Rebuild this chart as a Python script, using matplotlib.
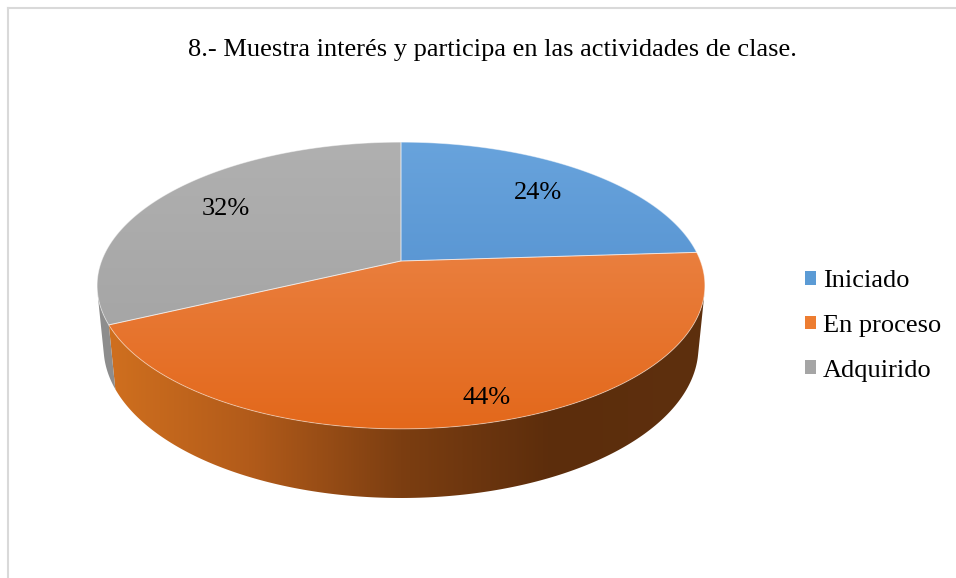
import numpy as np
import matplotlib
matplotlib.use("Agg")
import matplotlib.pyplot as plt
from matplotlib.patches import Polygon, Patch
from matplotlib.lines import Line2D
from matplotlib.colors import LinearSegmentedColormap

# ---------------- data ----------------
title = "8.- Muestra interés y participa en las actividades de clase."
categories = ["Iniciado", "En proceso", "Adquirido"]
values = [24, 44, 32]
label_texts = ["24%", "44%", "32%"]

# ---------------- style ----------------
legend_colors = ["#5B9BD5", "#ED7D31", "#A5A5A5"]
top_grad = [("#68A3DC", "#4887C9"), ("#EE8D54", "#E3681B"), ("#B0B0B0", "#A0A0A0")]
side_grad = [["#3F78B5", "#2A5584"],
             ["#D2711F", "#B25B1A", "#7C3E11", "#5C2D0C", "#5E300E"],
             ["#8E8E8E", "#7E7E7E"]]
label_r = [0.73, 0.88, 0.74]
label_dth = [0.0, -1.8, 0.0]
FONT = "Liberation Serif"
FS = 19

W, H = 956, 578
fig = plt.figure(figsize=(W / 100, H / 100), dpi=100)
ax = fig.add_axes([0, 0, 1, 1])
ax.axis("off")

# perspective projection of a unit-radius cylinder
cx, cy = 401, 261
phi = np.radians(27.7)
s, c = np.sin(phi), np.cos(phi)
D, F, h = 5.18, 1551.0, 0.235


def proj(theta_deg, z, r=1.0):
    t = np.radians(theta_deg)
    X = r * np.sin(t)
    Y = r * np.cos(t)
    den = D + Y * c - z * s
    return cx + F * X / den, cy - F * (Y * s + z * c) / den


total = float(sum(values))
angles = np.concatenate([[0], np.cumsum(values) / total * 360.0])

# silhouette of wall (tangent from camera)
thR = np.degrees(np.arccos(-1.0 / (D * c)))
thL = 360 - thR

# overall extents
tt = np.linspace(0, 360, 721)
ex, ey = proj(tt, 0)
bx, by = proj(tt, -h)
x_min, x_max = min(ex.min(), bx.min()), max(ex.max(), bx.max())
y_top, y_bot = ey.min(), ey.max()

grad_v = np.linspace(0, 1, 256).reshape(-1, 1)
grad_h = np.linspace(0, 1, 256).reshape(1, -1)

# walls
for i in range(len(values)):
    a0, a1 = max(angles[i], thR), min(angles[i + 1], thL)
    if a1 <= a0:
        continue
    th = np.linspace(a0, a1, 200)
    tx, ty = proj(th, 0)
    bxx, byy = proj(th[::-1], -h)
    pts = np.column_stack([np.concatenate([tx, bxx]), np.concatenate([ty, byy])])
    poly = Polygon(pts, closed=True, facecolor="none", edgecolor="none")
    ax.add_patch(poly)
    cmap = LinearSegmentedColormap.from_list(f"side{i}", side_grad[i])
    im = ax.imshow(grad_h, extent=(x_min, x_max, by.max(), y_top), origin="upper",
                   cmap=cmap, aspect="auto", zorder=1, interpolation="bilinear")
    im.set_clip_path(poly)

# top faces
for i in range(len(values)):
    th = np.linspace(angles[i], angles[i + 1], 300)
    tx, ty = proj(th, 0)
    pts = np.column_stack([np.concatenate([[cx], tx]), np.concatenate([[cy], ty])])
    poly = Polygon(pts, closed=True, facecolor="none", edgecolor="none")
    ax.add_patch(poly)
    cmap = LinearSegmentedColormap.from_list(f"top{i}", list(top_grad[i]))
    im = ax.imshow(grad_v, extent=(x_min, x_max, y_bot, y_top), origin="upper",
                   cmap=cmap, aspect="auto", zorder=2, interpolation="bilinear")
    im.set_clip_path(poly)
    edge = Polygon(pts, closed=True, facecolor="none", edgecolor=(1, 1, 1, 0.45),
                   linewidth=0.7, zorder=3)
    ax.add_patch(edge)

# labels
for i, lab in enumerate(label_texts):
    mid = (angles[i] + angles[i + 1]) / 2 + label_dth[i]
    lx, ly = proj(mid, 0, label_r[i])
    ax.text(lx, ly, lab, ha="center", va="center", fontsize=FS, family=FONT,
            color="black", zorder=5)

# title
ax.text(492, 50, title, ha="center", va="center", fontsize=FS, family=FONT, color="black")

# chart border (top & left visible)
ax.add_line(Line2D([8, W], [8, 8], color="#D9D9D9", linewidth=1.5))
ax.add_line(Line2D([8.5, 8.5], [8, H], color="#D9D9D9", linewidth=1.5))

ax.set_xlim(0, W)
ax.set_ylim(H, 0)

handles = [Patch(facecolor=legend_colors[i], edgecolor="none") for i in range(len(categories))]
leg = fig.legend(handles, categories, loc="center left", bbox_to_anchor=(805 / W, 1 - 326 / H),
                 frameon=False, prop={"family": FONT, "size": FS}, handlelength=0.42,
                 handleheight=0.42, handletextpad=0.27, labelspacing=0.86, borderpad=0,
                 borderaxespad=0)

fig.savefig("out.png", dpi=100)
